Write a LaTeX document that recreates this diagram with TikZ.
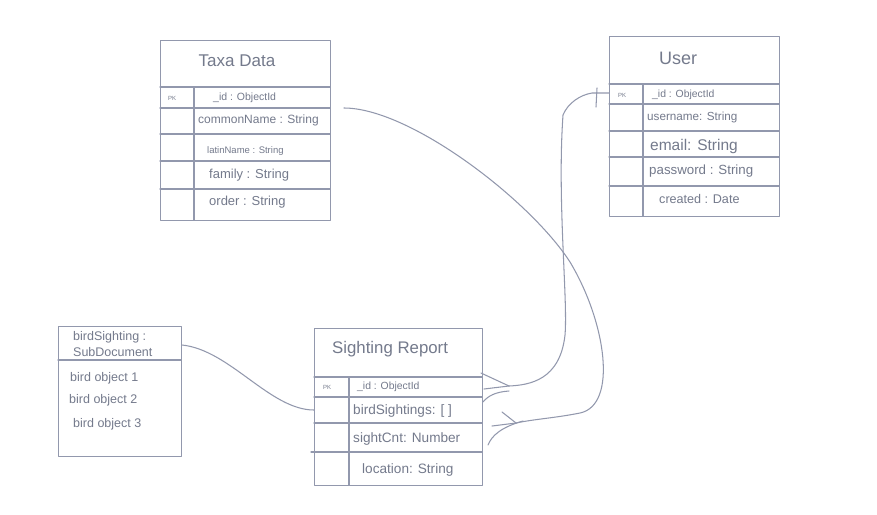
\documentclass[tikz,border=0pt]{standalone}
\usepackage{fontspec}
\setmainfont{Liberation Sans}
\definecolor{lc}{RGB}{146,152,173}
\definecolor{tc}{RGB}{116,122,140}
\tikzset{
  ln/.style={draw=lc, line width=1.05pt, line cap=round, line join=round},
  tbox/.style={ln, rectangle, inner sep=0pt, anchor=north west},
  lbl/.style={text=tc, inner sep=0pt, anchor=west},
  ttl/.style={text=tc, inner sep=0pt, anchor=center},
  fs/.style={font=\fontsize{#1}{#1}\selectfont},
  pk/.style={text=tc, inner sep=0pt, anchor=center, font=\fontsize{6}{6}\selectfont},
}
\begin{document}
\begin{tikzpicture}[x=1pt,y=-1pt]
\useasboundingbox (0,0) rectangle (877,514);
\fill[white] (0,0) rectangle (877,514);

% ---------- Taxa Data ----------
\node[tbox, minimum width=170pt, minimum height=180pt] (taxa) at (160,40) {};
\draw[ln] (160,87) -- (330,87);
\draw[ln] (160,108) -- (330,108);
\draw[ln] (160,134) -- (330,134);
\draw[ln] (160,161) -- (330,161);
\draw[ln] (160,189) -- (330,189);
\draw[ln] (194,87) -- (194,220);
\node[ttl, fs=17] (taxa-t) at (237,61) {Taxa Data};
\node[pk] (taxa-pk) at (172,98) {PK};
\node[lbl, fs=10.5] (taxa-id) at (213,98) {\_id : ObjectId};
\node[lbl, fs=12] (taxa-cn) at (198,120) {commonName : String};
\node[lbl, fs=9.5] (taxa-ln) at (207,151) {latinName : String};
\node[lbl, fs=13] (taxa-fa) at (209,175) {family : String};
\node[lbl, fs=13] (taxa-or) at (209,202) {order : String};
\coordinate (taxa-out) at (344,108);

% ---------- User ----------
\node[tbox, minimum width=170pt, minimum height=180pt] (user) at (609,36) {};
\draw[ln] (609,84) -- (779,84);
\draw[ln] (609,104) -- (779,104);
\draw[ln] (609,131) -- (779,131);
\draw[ln] (609,157) -- (779,157);
\draw[ln] (609,186) -- (779,186);
\draw[ln] (643,84) -- (643,216);
\node[ttl, fs=18] (user-t) at (678,58) {User};
\node[pk] (user-pk) at (622,95) {PK};
\node[lbl, fs=10.4] (user-id) at (652,95) {\_id : ObjectId};
\node[lbl, fs=11.7] (user-un) at (647,117) {username: String};
\node[lbl, fs=15.5] (user-em) at (650,146) {email: String};
\node[lbl, fs=13.3] (user-pw) at (649,171) {password : String};
\node[lbl, fs=12.6] (user-cr) at (659,199) {created : Date};
\coordinate (user-in) at (609,93);

% ---------- Sighting Report ----------
\node[tbox, minimum width=168pt, minimum height=157pt] (sr) at (314,328) {};
\draw[ln] (314,377) -- (482,377);
\draw[ln] (314,397) -- (482,397);
\draw[ln] (314,423) -- (482,423);
\draw[ln] (311,452) -- (482,452);
\draw[ln] (349,377) -- (349,485);
\node[lbl, fs=16.8] (sr-t) at (332,349) {Sighting Report};
\node[pk] (sr-pk) at (327,387) {PK};
\node[lbl, fs=10.4] (sr-id) at (357,387) {\_id : ObjectId};
\node[lbl, fs=13.6] (sr-bs) at (353,411) {birdSightings: [ ]};
\node[lbl, fs=13.6] (sr-sc) at (353,439) {sightCnt: Number};
\node[lbl, fs=13.6] (sr-lo) at (362,470) {location: String};
\coordinate (sr-in) at (314,410);

% ---------- birdSighting SubDocument ----------
\node[tbox, minimum width=123pt, minimum height=130pt] (bs) at (58,326) {};
\draw[ln] (58,360) -- (181,360);
\node[lbl, fs=12.5] (bs-t1) at (73,337) {birdSighting :};
\node[lbl, fs=12.5] (bs-t2) at (73,352) {SubDocument};
\node[lbl, fs=12.5] (bs-o1) at (70,378) {bird object 1};
\node[lbl, fs=12.5] (bs-o2) at (69,400) {bird object 2};
\node[lbl, fs=12.5] (bs-o3) at (73,424) {bird object 3};
\coordinate (bs-out) at (182,345);

% ---------- connectors ----------
% subdocument -> birdSightings
\draw[ln] (bs-out) .. controls (230,350) and (270,410) .. (sr-in);

% crow's foot centres
\coordinate (cf1) at (509,386);
\coordinate (cf2) at (516,423);

% User _id -> Sighting Report _id
\draw[ln] (user-in) -- (592,93) .. controls (580,95) and (568,103) .. (563,115)
  .. controls (557,200) and (568,300) .. (565,335)
  .. controls (560,380) and (530,385) .. (cf1);
\draw[ln] (597,88) -- (596,107);
\draw[ln] (cf1) -- (481,373);
\draw[ln] (cf1) -- (484,389);
\draw[ln] (509,391) .. controls (495,392) and (488,396) .. (483,402);

% Taxa -> Sighting Report birdSightings
\draw[ln] (taxa-out) .. controls (410,108) and (530,200) .. (570,262)
  .. controls (606,322) and (618,405) .. (580,413)
  .. controls (555,418) and (535,419) .. (cf2);
\draw[ln] (cf2) -- (502,412);
\draw[ln] (cf2) -- (492,426);
\draw[ln] (523,421) .. controls (502,427) and (492,435) .. (488,445);
\end{tikzpicture}
\end{document}
